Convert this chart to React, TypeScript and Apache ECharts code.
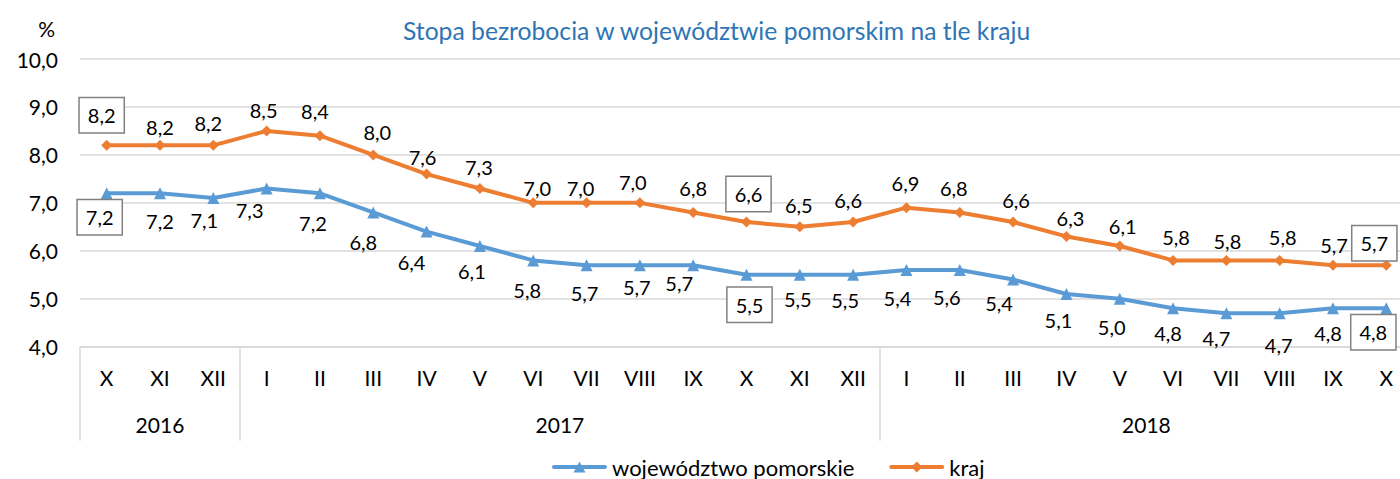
import React, { useEffect, useRef } from "react";
import * as echarts from "echarts";

// ---- data ----
const months = [
  "X", "XI", "XII",
  "I", "II", "III", "IV", "V", "VI", "VII", "VIII", "IX", "X", "XI", "XII",
  "I", "II", "III", "IV", "V", "VI", "VII", "VIII", "IX", "X",
];
const years = ["2016", "2017", "2018"];
const yearSpans = [3, 12, 10];

const pomorskie = [
  7.2, 7.2, 7.1, 7.3, 7.2, 6.8, 6.4, 6.1, 5.8, 5.7, 5.7, 5.7, 5.5, 5.5, 5.5,
  5.6, 5.6, 5.4, 5.1, 5.0, 4.8, 4.7, 4.7, 4.8, 4.8,
];
const kraj = [
  8.2, 8.2, 8.2, 8.5, 8.4, 8.0, 7.6, 7.3, 7.0, 7.0, 7.0, 6.8, 6.6, 6.5, 6.6,
  6.9, 6.8, 6.6, 6.3, 6.1, 5.8, 5.8, 5.8, 5.7, 5.7,
];
// label text printed in the source that differs from the plotted value
const pomorskieLabelOverrides: Record<number, string> = { 15: "5,4" };
const boxedIndices = [0, 12, 24];

const yTicks = { min: 4, max: 10, interval: 1 };

const TITLE = "Stopa bezrobocia w województwie pomorskim na tle kraju";
const SERIES_NAMES = ["województwo pomorskie", "kraj"];

// ---- label placement (styling) ----
const krajLabelOffsets: [number, number][] = [
  [-5, -30], [0, -18], [-5, -22], [-3, -21], [-5, -25], [4, -23], [-4, -17],
  [-1, -21], [4, -15], [-6, -15], [-7, -21], [0, -24], [2, -28], [-1, -22],
  [-5, -22], [-1, -25], [-6, -24], [3, -22], [4, -18], [3, -20], [3, -23],
  [1, -19], [3, -23], [1, -20], [-12, -22],
];
const pomorskieLabelOffsets: [number, number][] = [
  [-7, 24], [0, 28], [-9, 22], [-17, 22], [-7, 30], [-10, 30], [-15, 30],
  [-8, 25], [-6, 30], [-2, 28], [-3, 22], [-14, 18], [3, 30], [-2, 24],
  [-8, 25], [-9, 28], [-13, 27], [-14, 23], [-8, 26], [-8, 28], [-5, 25],
  [-10, 25], [-1, 32], [-5, 25], [-13, 24],
];

// legend icons: thick round-capped line with the series marker (55 x 11 box)
const LINE_PART = "M2,3.5 H53 A2,2 0 0 1 53,7.5 H2 A2,2 0 0 1 2,3.5 Z";
const LEGEND_ICONS = [
  "path://" + LINE_PART + " M27.5,0 L33.5,11 L21.5,11 Z",
  "path://" + LINE_PART + " M27.5,0 L33,5.5 L27.5,11 L22,5.5 Z",
];

const FONT = "Lato";
const COLORS = ["#5B9BD5", "#ED7D31"];
const fmt = (v: number) => v.toFixed(1).replace(".", ",");

const boxStyle = {
  borderColor: "#808080",
  borderWidth: 1.5,
  backgroundColor: "#ffffff",
  padding: [6, 8, 6, 8],
  lineHeight: 22,
};

export default function App() {
  const ref = useRef<HTMLDivElement>(null);

  useEffect(() => {
    if (!ref.current) return;
    const chart = echarts.init(ref.current, undefined, { renderer: "svg" });

    const yearCenters: number[] = [];
    const boundaries: number[] = [];
    let acc = 0;
    yearSpans.forEach((s) => {
      boundaries.push(acc);
      yearCenters.push(acc + s / 2);
      acc += s;
    });

    const makeData = (vals: number[], offsets: [number, number][]) =>
      vals.map((v, i) => ({
        value: v,
        label: {
          offset: offsets[i],
          ...(boxedIndices.includes(i) ? boxStyle : {}),
        },
      }));

    const labelBase = {
      show: true,
      position: "inside",
      fontFamily: FONT,
      fontSize: 20,
      color: "#000",
    };

    chart.setOption({
      animation: false,
      backgroundColor: "#ffffff",
      textStyle: { fontFamily: FONT },
      title: {
        text: TITLE,
        left: 403,
        top: 18,
        padding: 0,
        textStyle: {
          fontFamily: FONT,
          fontSize: 24.7,
          fontWeight: "normal",
          color: "#2E75B6",
        },
      },
      legend: {
        left: 552,
        top: 456,
        padding: 0,
        itemWidth: 55,
        itemHeight: 11,
        itemGap: 35,
        textStyle: { fontFamily: FONT, fontSize: 22, color: "#000" },
        data: SERIES_NAMES.map((n, i) => ({
          name: n,
          icon: LEGEND_ICONS[i],
          itemStyle: { color: COLORS[i], borderWidth: 0 },
        })),
      },
      grid: {
        left: 80,
        top: 59,
        width: 1333,
        height: 287.7,
        outerBoundsMode: "none",
        containLabel: false,
      },
      xAxis: [
        {
          type: "category",
          data: months,
          boundaryGap: true,
          position: "bottom",
          axisLine: { show: true, lineStyle: { color: "#d9d9d9", width: 1.5 } },
          axisTick: {
            show: true,
            length: 94,
            interval: (index: number) => boundaries.includes(index),
            lineStyle: { color: "#d9d9d9", width: 1.5 },
          },
          axisLabel: {
            interval: 0,
            margin: 20,
            fontFamily: FONT,
            fontSize: 21,
            color: "#000",
          },
          splitLine: { show: false },
        },
        {
          type: "value",
          min: 0,
          max: months.length,
          interval: 0.5,
          position: "bottom",
          axisLine: { show: false },
          axisTick: { show: false },
          splitLine: { show: false },
          axisLabel: {
            margin: 67,
            fontFamily: FONT,
            fontSize: 21,
            color: "#000",
            formatter: (v: number) => {
              const k = yearCenters.findIndex((c) => Math.abs(c - v) < 1e-6);
              return k >= 0 ? years[k] : "";
            },
          },
        },
      ],
      yAxis: {
        type: "value",
        min: yTicks.min,
        max: yTicks.max,
        interval: yTicks.interval,
        name: "%",
        nameLocation: "end",
        nameGap: 20,
        nameTextStyle: {
          fontFamily: FONT,
          fontSize: 21,
          color: "#000",
          align: "right",
          padding: [0, 25, 0, 0],
        },
        axisLine: { show: false },
        axisTick: { show: false },
        axisLabel: {
          margin: 22,
          fontFamily: FONT,
          fontSize: 21,
          color: "#000",
          formatter: (v: number) => fmt(v),
        },
        splitLine: { show: true, lineStyle: { color: "#d9d9d9", width: 1.5 } },
      },
      series: [
        {
          name: SERIES_NAMES[0],
          type: "line",
          xAxisIndex: 0,
          yAxisIndex: 0,
          data: makeData(pomorskie, pomorskieLabelOffsets),
          symbol: "triangle",
          symbolSize: 12,
          lineStyle: { color: COLORS[0], width: 4 },
          itemStyle: { color: COLORS[0] },
          label: {
            ...labelBase,
            formatter: (p: any) =>
              pomorskieLabelOverrides[p.dataIndex] ?? fmt(p.value),
          },
          z: 3,
        },
        {
          name: SERIES_NAMES[1],
          type: "line",
          xAxisIndex: 0,
          yAxisIndex: 0,
          data: makeData(kraj, krajLabelOffsets),
          symbol: "diamond",
          symbolSize: 11,
          lineStyle: { color: COLORS[1], width: 4 },
          itemStyle: { color: COLORS[1] },
          label: {
            ...labelBase,
            formatter: (p: any) => fmt(p.value),
          },
          z: 3,
        },
      ],
    });

    return () => chart.dispose();
  }, []);

  return (
    <div
      ref={ref}
      style={{
        position: "fixed",
        left: 0,
        top: 0,
        width: 1400,
        height: 479,
        overflow: "hidden",
      }}
    />
  );
}
